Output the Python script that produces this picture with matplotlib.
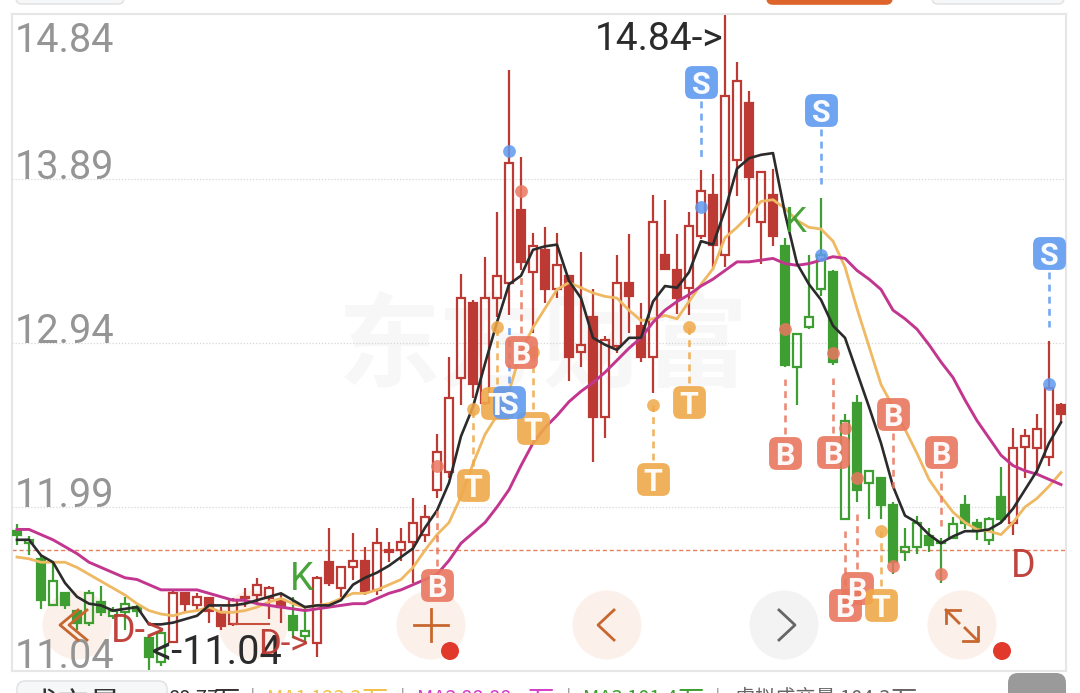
import matplotlib
matplotlib.use('Agg')
import matplotlib.pyplot as plt
import numpy as np
from matplotlib.patches import BoxStyle, Circle, FancyBboxPatch

# candle values, one row per 10 candles
body_top = [11.85, 11.80, 11.69, 11.56, 11.49, 11.39, 11.49, 11.44, 11.39, 11.43,
            11.41, 11.23, 11.26, 11.49, 11.49, 11.47, 11.46, 11.38, 11.45, 11.47,
            11.54, 11.52, 11.45, 11.36, 11.27, 11.58, 11.67, 11.64, 11.68, 11.68,
            11.78, 11.74, 11.79, 11.90, 11.93, 12.31, 12.62, 13.20, 13.17, 13.20,
            13.33, 13.98, 13.71, 13.50, 13.48, 13.39, 13.33, 12.93, 13.09, 12.96,
            13.29, 13.29, 13.04, 13.64, 13.45, 13.36, 13.62, 13.82, 13.80, 14.37,
            14.46, 14.33, 13.93, 13.80, 13.50, 12.99, 13.09, 13.45, 13.35, 12.49,
            12.59, 12.20, 12.16, 12.00, 11.76, 11.90, 11.82, 11.79, 11.89, 12.00,
            11.90, 11.92, 12.05, 12.33, 12.40, 12.44, 12.68, 12.58]
body_bot = [11.83, 11.78, 11.45, 11.42, 11.42, 11.32, 11.32, 11.38, 11.36, 11.38,
            11.39, 11.12, 11.09, 11.21, 11.43, 11.42, 11.39, 11.30, 11.31, 11.46,
            11.48, 11.46, 11.41, 11.28, 11.24, 11.20, 11.55, 11.52, 11.64, 11.50,
            11.51, 11.73, 11.74, 11.79, 11.83, 12.09, 12.19, 12.74, 12.70, 12.59,
            13.20, 13.29, 13.41, 13.35, 13.25, 13.25, 12.86, 12.89, 12.51, 12.51,
            12.92, 13.21, 12.86, 12.86, 13.37, 13.20, 13.26, 13.56, 13.51, 13.45,
            14.00, 13.90, 13.64, 13.56, 12.81, 12.80, 13.03, 13.25, 12.83, 11.92,
            12.09, 12.13, 12.00, 11.67, 11.73, 11.76, 11.77, 11.78, 11.81, 11.90,
            11.85, 11.80, 11.92, 11.90, 12.34, 12.33, 12.28, 12.53]
high = [11.89, 11.82, 11.71, 11.68, 11.49, 11.39, 11.51, 11.53, 11.41, 11.47,
        11.42, 11.23, 11.28, 11.51, 11.49, 11.49, 11.46, 11.41, 11.46, 11.52,
        11.58, 11.53, 11.49, 11.47, 11.41, 11.59, 11.87, 11.65, 11.84, 11.76,
        11.87, 11.79, 11.87, 12.04, 12.00, 12.41, 12.86, 13.34, 13.19, 13.44,
        13.70, 14.52, 14.02, 13.58, 13.61, 13.58, 13.33, 13.47, 13.25, 12.98,
        13.45, 13.57, 13.17, 13.80, 13.77, 13.57, 13.70, 13.94, 13.92, 14.84,
        14.57, 14.40, 13.93, 13.95, 13.55, 13.00, 13.45, 13.78, 13.36, 12.53,
        12.64, 12.20, 12.16, 12.02, 11.87, 11.94, 11.87, 11.81, 11.93, 12.06,
        11.92, 11.93, 12.22, 12.45, 12.44, 12.53, 12.95, 12.59]
low = [11.77, 11.71, 11.40, 11.42, 11.40, 11.28, 11.30, 11.36, 11.34, 11.28,
       11.35, 11.04, 11.07, 11.21, 11.38, 11.38, 11.32, 11.28, 11.30, 11.41,
       11.42, 11.34, 11.32, 11.23, 11.20, 11.12, 11.53, 11.47, 11.57, 11.48,
       11.48, 11.67, 11.68, 11.55, 11.79, 12.04, 12.16, 12.58, 12.62, 12.58,
       13.09, 13.10, 13.36, 13.00, 13.17, 13.20, 12.72, 12.80, 12.25, 12.39,
       12.88, 13.00, 12.83, 12.65, 13.36, 13.11, 13.10, 13.54, 13.36, 13.38,
       13.79, 13.61, 13.40, 13.50, 12.80, 12.58, 13.02, 13.21, 12.81, 11.92,
       12.02, 11.92, 11.92, 11.60, 11.68, 11.72, 11.73, 11.55, 11.81, 11.86,
       11.80, 11.77, 11.90, 11.83, 12.16, 12.18, 12.23, 12.48]
# g/r colour, F filled, H hollow
kinds = ['gF', 'gH', 'gF', 'gH', 'gF', 'gF', 'gH', 'gF', 'gH', 'gH',
         'gF', 'gF', 'gH', 'rH', 'rF', 'rH', 'rF', 'rF', 'rH', 'rF',
         'rH', 'rH', 'rF', 'gF', 'gH', 'rH', 'rF', 'rH', 'rH', 'rF',
         'rH', 'rF', 'rH', 'rH', 'rH', 'rH', 'rH', 'rH', 'rF', 'rH',
         'rH', 'rH', 'rF', 'rH', 'rF', 'rH', 'rF', 'rH', 'rF', 'rH',
         'rH', 'rF', 'rF', 'rH', 'rF', 'rF', 'rH', 'rH', 'rF', 'rH',
         'rH', 'rF', 'rH', 'rF', 'gF', 'gH', 'gH', 'gH', 'gF', 'gH',
         'gF', 'gH', 'gF', 'gF', 'gH', 'gH', 'gF', 'gF', 'gH', 'gF',
         'gF', 'gH', 'gF', 'rH', 'rH', 'rH', 'rH', 'rF']

ma_black = [11.80, 11.80, 11.71, 11.67, 11.55, 11.47, 11.43, 11.42, 11.39, 11.40,
            11.41, 11.31, 11.31, 11.32, 11.34, 11.36, 11.42, 11.42, 11.42, 11.43,
            11.45, 11.47, 11.49, 11.45, 11.41, 11.42, 11.42, 11.45, 11.54, 11.58,
            11.61, 11.65, 11.70, 11.75, 11.87, 11.97, 12.13, 12.40, 12.57, 12.82,
            13.06, 13.28, 13.33, 13.48, 13.50, 13.51, 13.30, 13.20, 12.97, 12.93,
            12.90, 12.97, 12.97, 13.18, 13.27, 13.26, 13.35, 13.53, 13.51, 13.71,
            13.95, 14.01, 14.03, 14.04, 13.69, 13.40, 13.28, 13.19, 13.04, 12.97,
            12.77, 12.57, 12.36, 12.11, 11.94, 11.90, 11.83, 11.78, 11.82, 11.85,
            11.85, 11.86, 11.90, 11.98, 12.09, 12.20, 12.36, 12.48]
ma_orange = [11.70, 11.69, 11.67, 11.67, 11.67, 11.64, 11.60, 11.56, 11.52, 11.48,
             11.43, 11.39, 11.37, 11.36, 11.38, 11.39, 11.41, 11.38, 11.38, 11.39,
             11.41, 11.44, 11.46, 11.43, 11.41, 11.42, 11.43, 11.46, 11.49, 11.49,
             11.51, 11.54, 11.57, 11.64, 11.74, 11.83, 11.90, 12.05, 12.24, 12.41,
             12.52, 12.66, 12.89, 13.03, 13.14, 13.25, 13.29, 13.26, 13.23, 13.21,
             13.20, 13.13, 13.07, 13.08, 13.10, 13.08, 13.18, 13.28, 13.37, 13.55,
             13.61, 13.68, 13.76, 13.77, 13.72, 13.65, 13.61, 13.60, 13.53, 13.38,
             13.14, 12.92, 12.70, 12.57, 12.44, 12.30, 12.15, 12.05, 11.96, 11.90,
             11.86, 11.85, 11.83, 11.90, 11.99, 12.04, 12.11, 12.19]
ma_magenta = [11.86, 11.86, 11.83, 11.80, 11.76, 11.72, 11.67, 11.64, 11.61, 11.58,
              11.57, 11.54, 11.51, 11.51, 11.51, 11.51, 11.49, 11.47, 11.45, 11.45,
              11.43, 11.42, 11.41, 11.40, 11.39, 11.40, 11.41, 11.42, 11.43, 11.43,
              11.46, 11.49, 11.51, 11.54, 11.57, 11.60, 11.68, 11.78, 11.84, 11.90,
              11.99, 12.09, 12.23, 12.36, 12.45, 12.52, 12.60, 12.66, 12.71, 12.77,
              12.84, 12.91, 12.97, 13.06, 13.13, 13.18, 13.22, 13.27, 13.31, 13.36,
              13.41, 13.41, 13.42, 13.43, 13.40, 13.39, 13.40, 13.42, 13.44, 13.43,
              13.36, 13.31, 13.25, 13.13, 13.08, 13.02, 12.93, 12.83, 12.74, 12.61,
              12.49, 12.39, 12.29, 12.23, 12.20, 12.18, 12.15, 12.12]

# buy/sell/T flags: candle index, letter, dot price, tag price
sig_idx = [35, 42, 64, 68, 69, 70, 73, 77, 38, 40, 43, 53, 56, 72, 41, 57, 67, 86]
sig_kind = ['B', 'B', 'B', 'B', 'B', 'B', 'B', 'B', 'T', 'T', 'T', 'T', 'T', 'T', 'S', 'S', 'S', 'S']
sig_dot = [12.23, 13.82, 13.02, 12.88, 12.45, 12.16, 11.65, 11.60,
           12.56, 13.03, 12.89, 12.58, 13.03, 11.85,
           14.05, 13.73, 13.45, 12.70]
sig_tag = [11.54, 12.89, 12.30, 12.31, 11.42, 11.52, 12.53, 12.31,
           12.12, 12.59, 12.45, 12.15, 12.60, 11.42,
           12.60, 14.45, 14.29, 13.46]

y_ticks = [11.04, 11.99, 12.94, 13.89, 14.84]
last_close = 11.74

RED = '#bc3a33'
GREEN = '#3f9e32'
SIG_COL = {'B': '#e9775f', 'S': '#5f9af0', 'T': '#efa94a'}

fig = plt.figure(figsize=(10.8, 6.93), dpi=100)
fig.patch.set_facecolor('white')

# page furniture sits in pixel coordinates
bg = fig.add_axes([0, 0, 1, 1], zorder=0)
bg.set_xlim(0, 1080)
bg.set_ylim(693, 0)
bg.axis('off')
top = fig.add_axes([0, 0, 1, 1], zorder=2)
top.set_xlim(0, 1080)
top.set_ylim(693, 0)
top.axis('off')

bg.text(543, 349, '东方财富', family='Noto Sans CJK SC', fontweight='bold', fontsize=74,
        color='#f7f7f7', ha='center', va='center')
for cx, col in [(77, '#fbf1ea'), (253, '#fbf1ea'), (431, '#fbf1ea'), (607, '#fbf1ea'),
                (784, '#f3f3f3'), (962, '#fbf1ea')]:
    bg.add_patch(Circle((cx, 625), 34.5, fc=col, ec='none'))

# chart area
ax = fig.add_axes([12 / 1080, 22 / 693, 1054 / 1080, 657 / 693], zorder=1)
ax.patch.set_alpha(0)
ax.set_xlim(-5 / 12, 1049 / 12)
ax.set_ylim(11.04, 14.84 + 0.0058)
ax.set_xticks([])
ax.set_yticks([])
for s in ax.spines.values():
    s.set_color('#e6e6e6')
    s.set_linewidth(1.5)

for t in y_ticks[1:-1]:
    ax.axhline(t, color='#d6d6d6', lw=0.9, ls=(0, (1, 1.5)), zorder=1)
ax.axhline(last_close, color='#e5805f', lw=1.0, ls=(0, (3, 2)), zorder=1)

for i in range(len(kinds)):
    col = RED if kinds[i][0] == 'r' else GREEN
    filled = kinds[i][1] == 'F'
    ax.plot([i, i], [body_top[i], high[i]], color=col, lw=1.6, solid_capstyle='butt', zorder=2)
    ax.plot([i, i], [low[i], body_bot[i]], color=col, lw=1.6, solid_capstyle='butt', zorder=2)
    ax.bar(i, body_top[i] - body_bot[i], bottom=body_bot[i], width=0.72,
           facecolor=col if filled else 'none', edgecolor=col, lw=1.6, zorder=3)
# short red stroke under the candles near the second D label
ax.plot([18, 21], [11.31, 11.31], color='#c9503f', lw=1.5, zorder=3)

xs = np.arange(len(ma_black))
ax.plot(xs, ma_orange, color='#efb862', lw=2.0, zorder=4)
ax.plot(xs, ma_magenta, color='#c2368f', lw=2.1, zorder=4)
ax.plot(xs, ma_black, color='#2b2b2b', lw=1.9, zorder=5)

# flags
tag_path = BoxStyle('Round', pad=0, rounding_size=0.45)(-1, -1, 2, 2, 1)
for i, k, d, t in zip(sig_idx, sig_kind, sig_dot, sig_tag):
    col = SIG_COL[k]
    sign = 1 if d > t else -1
    ax.plot([i, i], [t + sign * 0.11, t + sign * 0.43], color=col, lw=1.9, alpha=0.85,
            ls=(0, (2.6, 2)), zorder=6)
    ax.scatter(i, d, s=85, color=col, alpha=0.85, lw=0, zorder=6)
    ax.scatter(i, t, s=560, marker=tag_path, color=col, alpha=0.9, lw=0, zorder=7)
    ax.text(i, t, k, family='Roboto', fontweight='bold', fontsize=22, color='white',
            ha='center', va='center_baseline', alpha=0.95, zorder=8, clip_on=False)

# y labels sit inside the chart, baseline just above each level
trans = ax.get_yaxis_transform()
for t in y_ticks:
    off = -37 if t == y_ticks[-1] else (3 if t == y_ticks[0] else 0)
    ax.annotate(f'{t:.2f}', xy=(0, t), xycoords=trans, xytext=(3, off),
                textcoords='offset pixels', family='Roboto', fontsize=28.5,
                color='#8f8f8f', alpha=0.95, ha='left', va='baseline', zorder=9)

# extreme price labels
ax.annotate('14.84->', xy=(59, 14.84), xytext=(-2, -35), textcoords='offset pixels',
            family='Roboto', fontsize=28, color='#2b2b2b', ha='right', va='baseline', zorder=9)
ax.annotate('<-11.04', xy=(11, 11.04), xytext=(3, 7), textcoords='offset pixels',
            family='Roboto', fontsize=28.5, color='#2b2b2b', ha='left', va='baseline', zorder=9)

# K and D trend labels
for x, y, s, col, size in [(302, 590, 'K', GREEN, 27), (795, 232, 'K', GREEN, 25),
                           (1023, 577, 'D', RED, 27), (138, 642, 'D->', RED, 27),
                           (283, 654, 'D->', RED, 25)]:
    top.text(x, y, s, family='Roboto', fontsize=size, color=col, alpha=0.95,
             ha='center', va='baseline')

# buttons
ORG = '#c8662f'
lw_ui = 2.0
for tip in (60, 69):
    top.plot([tip + 18, tip, tip + 18], [610, 625, 640], color=ORG, lw=lw_ui)
top.plot([414, 448], [625, 625], color=ORG, lw=lw_ui)
top.plot([431, 431], [609, 641], color=ORG, lw=lw_ui)
top.plot([614, 598, 614], [610, 625, 640], color=ORG, lw=lw_ui)
top.plot([779, 795, 779], [610, 625, 640], color='#666666', lw=lw_ui)
top.plot([946, 946, 960], [623, 610, 610], color=ORG, lw=lw_ui)
top.plot([946, 959], [610, 623], color=ORG, lw=lw_ui)
top.plot([963, 978, 978], [641, 641, 627], color=ORG, lw=lw_ui)
top.plot([965, 978], [628, 641], color=ORG, lw=lw_ui)
for cx in (450, 1002):
    top.add_patch(Circle((cx, 651), 9, fc='#e13a2d', ec='none', zorder=6))

# cut off pieces of the page above and below the chart
for x0, w, fc, ec in [(16, 108, '#f6f7f9', '#e4e4e4'), (767, 125, '#dd652c', '#dd652c'),
                      (932, 132, '#f6f7f9', '#e4e4e4')]:
    bg.add_patch(FancyBboxPatch((x0, -20), w, 24, boxstyle='round,pad=0,rounding_size=6',
                                mutation_aspect=1, fc=fc, ec=ec, lw=1.2))
bg.add_patch(FancyBboxPatch((17 + 8, 689), 150 - 16, 30, boxstyle='round,pad=8',
                            fc='#f6f7f9', ec='#e4e4e4', lw=1.2))
bg.add_patch(FancyBboxPatch((1008 + 10, 683), 58 - 20, 30, boxstyle='round,pad=10',
                            fc='#9a9a9a', ec='none'))
CJK = ['Noto Sans CJK SC', 'DejaVu Sans']
top.text(26, 715, '成交量', family=CJK, fontsize=23, color='#333333', ha='left', va='baseline')
top.text(1033, 714, '1', family=CJK, fontsize=19, color='white', ha='left', va='baseline')
for x, s, col in [(168, '88.77', '#333333'), (267, 'MA1 123.3', '#f0c24a'),
                  (417, 'MA2 88.88', '#d23fc9'), (583, 'MA3 101.4', GREEN),
                  (735, '虚拟成交量 104.3', '#666666')]:
    top.text(x, 704, s, family=CJK, fontsize=14.5, color=col, ha='left', va='baseline')
for x, col in [(213, '#333333'), (361, '#f0c24a'), (527, '#d23fc9'), (677, GREEN), (890, '#666666')]:
    top.text(x, 709, '万', family=CJK, fontsize=19, color=col, ha='left', va='baseline')
for x in (250, 400, 566, 715):
    top.text(x, 704, '|', family=CJK, fontsize=14.5, color='#999999', ha='left', va='baseline')

fig.savefig('out.png', dpi=100)
plt.close(fig)
